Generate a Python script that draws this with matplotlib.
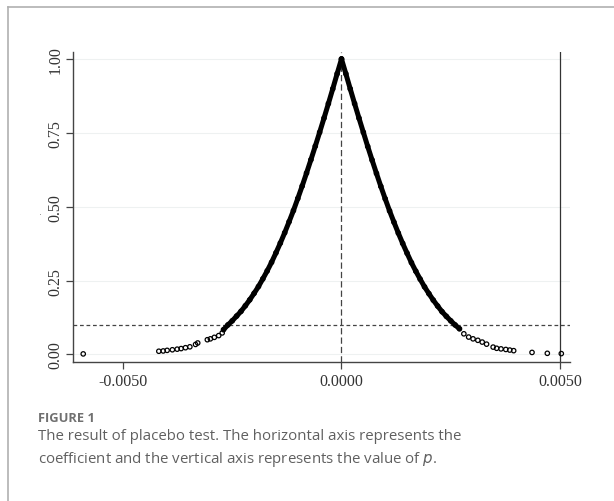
import numpy as np
from matplotlib import pyplot as plt
from matplotlib.lines import Line2D

# placebo coefficients and p values
# dense part of the curve (left branch, right branch)
coef_left = [-0.0027, -0.0026, -0.0025, -0.0024, -0.0023, -0.0022, -0.0021, -0.0020,
             -0.0019, -0.0018, -0.0017, -0.0016, -0.0015, -0.0014, -0.0013, -0.0012,
             -0.0011, -0.0010, -0.0009, -0.0008, -0.0007, -0.0006, -0.0005, -0.0004,
             -0.0003, -0.0002, -0.0001, 0.0]
p_left = [0.084, 0.100, 0.114, 0.130, 0.146, 0.165, 0.185, 0.207,
          0.230, 0.256, 0.283, 0.312, 0.344, 0.377, 0.412, 0.449,
          0.487, 0.528, 0.570, 0.614, 0.659, 0.705, 0.752, 0.800,
          0.849, 0.899, 0.950, 1.0]
coef_right = [0.0, 0.0001, 0.0002, 0.0003, 0.0004, 0.0005, 0.0006, 0.0007,
              0.0008, 0.0009, 0.0010, 0.0011, 0.0012, 0.0013, 0.0014, 0.0015,
              0.0016, 0.0017, 0.0018, 0.0019, 0.0020, 0.0021, 0.0022, 0.0023,
              0.0024, 0.0025, 0.0026, 0.0027]
p_right = [1.0, 0.950, 0.899, 0.849, 0.800, 0.752, 0.704, 0.658,
           0.613, 0.569, 0.527, 0.486, 0.448, 0.411, 0.376, 0.343,
           0.311, 0.282, 0.255, 0.229, 0.206, 0.184, 0.164, 0.145,
           0.129, 0.114, 0.100, 0.087]

# sparse tails
coef_tail = [-0.00591, -0.00418, -0.00408, -0.00399, -0.00387, -0.00376, -0.00367,
             -0.00357, -0.00347, -0.00334, -0.00329, -0.00307, -0.00300, -0.00291,
             -0.00281, -0.00273,
             0.00280, 0.00291, 0.00301, 0.00312, 0.00322, 0.00332, 0.00347, 0.00355,
             0.00365, 0.00376, 0.00385, 0.00394, 0.00436, 0.00471, 0.00503]
p_tail = [0.002, 0.011, 0.012, 0.014, 0.016, 0.018, 0.020,
          0.023, 0.026, 0.034, 0.039, 0.050, 0.053, 0.058,
          0.064, 0.073,
          0.070, 0.059, 0.053, 0.048, 0.042, 0.035, 0.025, 0.021,
          0.019, 0.017, 0.015, 0.013, 0.007, 0.004, 0.003]

xticks = [-0.005, 0.0, 0.005]
xtick_labels = ['-0.0050', '0.0000', '0.0050']
yticks = [0.0, 0.25, 0.5, 0.75, 1.0]
ytick_labels = ['0.00', '0.25', '0.50', '0.75', '1.00']

fig = plt.figure(figsize=(6.14, 5.02), dpi=100)
ax = fig.add_axes([73 / 614, 1 - 363 / 502, 497 / 614, 310 / 502])

ax.set_xlim(-0.006144, 0.005229)
ax.set_ylim(-0.0254, 1.0237)

for y in yticks:
    ax.axhline(y, color='#eef1f1', lw=0.8, zorder=0)

ax.axhline(0.1, color='#444444', lw=0.9, ls=(0, (3, 2.2)), zorder=1)
ax.axvline(0.0, color='#444444', lw=0.9, ls=(0, (5, 2.5)), zorder=1)
ax.axvline(0.005, color='#333333', lw=0.9, zorder=1)

ax.plot(coef_left, p_left, color='black', lw=3.6, solid_capstyle='round', zorder=2)
ax.plot(coef_right, p_right, color='black', lw=3.6, solid_capstyle='round', zorder=2)
ax.scatter(coef_left + coef_right, p_left + p_right, s=10, facecolors='none',
           edgecolors='black', linewidths=0.9, zorder=3)
ax.scatter(coef_tail, p_tail, s=10, facecolors='none', edgecolors='black',
           linewidths=0.9, zorder=3)

for side in ['top', 'right']:
    ax.spines[side].set_visible(False)
for side in ['left', 'bottom']:
    ax.spines[side].set_color('#444444')
    ax.spines[side].set_linewidth(1.0)

ax.set_xticks(xticks)
ax.set_xticklabels(xtick_labels, family='Liberation Serif', fontsize=11.5, color='#333333')
ax.set_yticks(yticks)
ax.set_yticklabels(ytick_labels, family='Liberation Serif', fontsize=11.5, color='#333333',
                   rotation=90, va='center')
ax.tick_params(axis='both', length=5, width=0.9, color='#444444')
ax.tick_params(axis='y', pad=2)
ax.tick_params(axis='x', pad=3)

fig.text(41 / 614, 1 - 212 / 502, '.', fontsize=7, color='#888888',
         ha='center', va='center')

# card border
fig.add_artist(Line2D([8 / 614, 1], [1 - 8 / 502, 1 - 8 / 502], color='#b0b0b0', lw=1.2))
fig.add_artist(Line2D([8 / 614, 8 / 614], [0, 1 - 8 / 502], color='#b0b0b0', lw=1.2))

fig.text(38 / 614, 1 - 418 / 502, 'FIGURE 1', family='Open Sans', fontsize=9.3,
         fontweight='bold', color='#707070', va='center')
fig.text(38 / 614, 1 - 437 / 502, 'The result of placebo test. The horizontal axis represents the',
         family='Open Sans', fontsize=10.8, color='#606060', va='center')
fig.text(38 / 614, 1 - 460 / 502,
         'coefficient and the vertical axis represents the value of $\\it{p}$.',
         family='Open Sans', fontsize=10.8, color='#606060', va='center')

plt.savefig('out.png', dpi=100)
